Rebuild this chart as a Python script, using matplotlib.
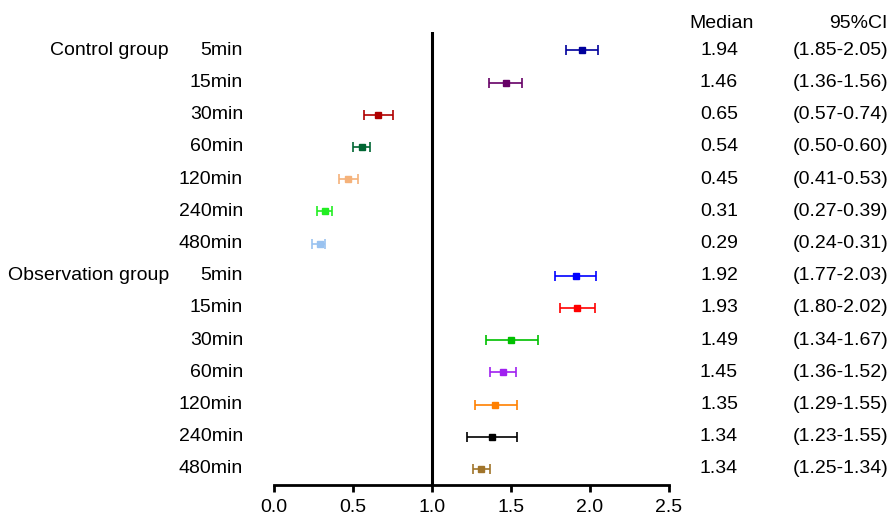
import matplotlib
matplotlib.use("Agg")
import matplotlib.pyplot as plt
from matplotlib.transforms import blended_transform_factory

plt.rcParams['font.family'] = ['Liberation Sans', 'DejaVu Sans']

groups = ["Control group", "Observation group"]
times = ["5min", "15min", "30min", "60min", "120min", "240min", "480min"]

# plotted point estimates and CI limits (read from marks)
ctrl_mid = [1.95, 1.47, 0.66, 0.56, 0.47, 0.32, 0.29]
ctrl_lo = [1.85, 1.36, 0.57, 0.50, 0.41, 0.27, 0.24]
ctrl_hi = [2.05, 1.57, 0.75, 0.61, 0.53, 0.37, 0.32]
obs_mid = [1.91, 1.92, 1.50, 1.45, 1.40, 1.38, 1.31]
obs_lo = [1.78, 1.81, 1.34, 1.37, 1.27, 1.22, 1.26]
obs_hi = [2.04, 2.03, 1.67, 1.53, 1.54, 1.54, 1.37]

# text columns
median_txt = ["1.94", "1.46", "0.65", "0.54", "0.45", "0.31", "0.29",
              "1.92", "1.93", "1.49", "1.45", "1.35", "1.34", "1.34"]
ci_txt = ["(1.85-2.05)", "(1.36-1.56)", "(0.57-0.74)", "(0.50-0.60)", "(0.41-0.53)",
          "(0.27-0.39)", "(0.24-0.31)", "(1.77-2.03)", "(1.80-2.02)", "(1.34-1.67)",
          "(1.36-1.52)", "(1.29-1.55)", "(1.23-1.55)", "(1.25-1.34)"]

ctrl_colors = ["#00009C", "#660066", "#B00000", "#006633", "#F5B27A", "#22EE22", "#99C2F0"]
obs_colors = ["#0000FF", "#FF0000", "#00C000", "#A020F0", "#FF8000", "#000000", "#A0742A"]

W, H = 889, 519
FS = 14
fig = plt.figure(figsize=(W / 100, H / 100), dpi=100)
ax = fig.add_axes([274 / W, 1 - 485 / H, (669 - 274) / W, (485 - 32) / H])

mids = ctrl_mid + obs_mid
los = ctrl_lo + obs_lo
his = ctrl_hi + obs_hi
colors = ctrl_colors + obs_colors
n = len(mids)
for i in range(n):
    ax.errorbar(mids[i], i, xerr=[[mids[i] - los[i]], [his[i] - mids[i]]],
                fmt='s', color=colors[i], ms=4.5, capsize=3.5, elinewidth=1.2,
                capthick=1.2, zorder=3)

ax.axvline(1.0, color='black', lw=2.2, zorder=2)
ax.set_xlim(0, 2.5)
ax.set_ylim(n - 1 + 0.497, -0.568)
ax.set_xticks([0, 0.5, 1.0, 1.5, 2.0, 2.5])
ax.set_xticklabels(["0.0", "0.5", "1.0", "1.5", "2.0", "2.5"])
ax.set_yticks([])
for s in ["left", "right", "top"]:
    ax.spines[s].set_visible(False)
ax.spines["bottom"].set_linewidth(2.0)
ax.tick_params(axis='x', length=5, width=2.0, labelsize=FS, pad=5)

tr = blended_transform_factory(fig.transFigure, ax.transData)
labels = times + times
for i in range(n):
    ax.text(243 / W, i, labels[i], transform=tr, ha='right', va='center', fontsize=FS)
    ax.text(719 / W, i, median_txt[i], transform=tr, ha='center', va='center', fontsize=FS)
    ax.text(888 / W, i, ci_txt[i], transform=tr, ha='right', va='center', fontsize=FS)
ax.text(169 / W, 0, groups[0], transform=tr, ha='right', va='center', fontsize=FS)
ax.text(169 / W, 7, groups[1], transform=tr, ha='right', va='center', fontsize=FS)

fig.text(722 / W, 1 - 23 / H, "Median", ha='center', va='center', fontsize=FS)
fig.text(888 / W, 1 - 23 / H, "95%CI", ha='right', va='center', fontsize=FS)

fig.savefig("out.png", dpi=100)
